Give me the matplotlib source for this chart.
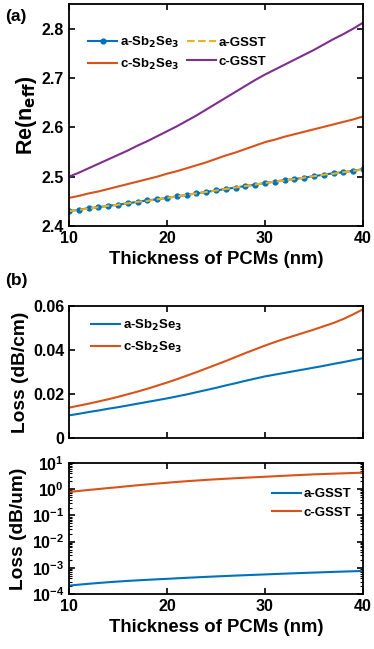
import numpy as np
import matplotlib
matplotlib.use("Agg")
from matplotlib import pyplot as plt
from matplotlib.ticker import LogLocator, NullFormatter

# thickness of PCM layer (nm), 10 ... 40 in 1 nm steps
thick = list(range(10, 41))

# Re(n_eff)
neff_a_sb = [2.430, 2.433, 2.436, 2.438, 2.441, 2.443, 2.446, 2.449, 2.452, 2.454,
             2.457, 2.460, 2.463, 2.466, 2.469, 2.472, 2.475, 2.478, 2.481, 2.484,
             2.487, 2.490, 2.493, 2.495, 2.498, 2.501, 2.504, 2.507, 2.509, 2.512,
             2.515]
neff_a_gsst = [2.430, 2.433, 2.435, 2.438, 2.441, 2.443, 2.446, 2.449, 2.451, 2.454,
               2.457, 2.460, 2.463, 2.466, 2.469, 2.472, 2.475, 2.478, 2.481, 2.484,
               2.487, 2.490, 2.492, 2.495, 2.498, 2.501, 2.504, 2.506, 2.509, 2.512,
               2.514]
neff_c_sb = [2.457, 2.461, 2.466, 2.470, 2.475, 2.480, 2.485, 2.490, 2.495, 2.500,
             2.506, 2.511, 2.517, 2.523, 2.529, 2.536, 2.543, 2.549, 2.556, 2.563,
             2.570, 2.575, 2.581, 2.586, 2.591, 2.596, 2.601, 2.606, 2.611, 2.616,
             2.622]
neff_c_gsst = [2.500, 2.508, 2.517, 2.526, 2.535, 2.544, 2.553, 2.563, 2.572, 2.582,
               2.592, 2.602, 2.613, 2.624, 2.636, 2.648, 2.660, 2.672, 2.684, 2.696,
               2.707, 2.717, 2.727, 2.737, 2.747, 2.757, 2.768, 2.779, 2.789, 2.800,
               2.812]

# loss (dB/cm) for Sb2Se3
loss_a_sb = [0.0103, 0.0110, 0.0118, 0.0125, 0.0133, 0.0140, 0.0148, 0.0156, 0.0164,
             0.0172, 0.0180, 0.0189, 0.0198, 0.0208, 0.0218, 0.0228, 0.0239, 0.0249,
             0.0260, 0.0270, 0.0280, 0.0288, 0.0296, 0.0304, 0.0312, 0.0320, 0.0328,
             0.0337, 0.0345, 0.0354, 0.0363]
loss_c_sb = [0.0138, 0.0147, 0.0156, 0.0166, 0.0176, 0.0187, 0.0199, 0.0211, 0.0224,
             0.0238, 0.0252, 0.0267, 0.0283, 0.0299, 0.0316, 0.0333, 0.0350, 0.0368,
             0.0386, 0.0403, 0.0420, 0.0436, 0.0451, 0.0465, 0.0479, 0.0493, 0.0508,
             0.0523, 0.0541, 0.0562, 0.0585]

# loss (dB/um) for GSST
loss_a_gsst = [2.10e-4, 2.28e-4, 2.46e-4, 2.64e-4, 2.82e-4, 3.00e-4, 3.17e-4, 3.33e-4,
               3.49e-4, 3.65e-4, 3.80e-4, 3.98e-4, 4.16e-4, 4.34e-4, 4.52e-4, 4.70e-4,
               4.88e-4, 5.06e-4, 5.24e-4, 5.42e-4, 5.60e-4, 5.80e-4, 6.00e-4, 6.20e-4,
               6.40e-4, 6.60e-4, 6.80e-4, 7.00e-4, 7.20e-4, 7.40e-4, 7.60e-4]
loss_c_gsst = [0.79, 0.86, 0.94, 1.02, 1.11, 1.20, 1.31, 1.42, 1.53, 1.65, 1.77, 1.90,
               2.03, 2.15, 2.28, 2.40, 2.52, 2.64, 2.76, 2.88, 3.00, 3.14, 3.28, 3.42,
               3.56, 3.70, 3.82, 3.94, 4.06, 4.18, 4.30]

blue = "#0072BD"
orange = "#D95319"
yellow = "#EDB120"
purple = "#7E2F8E"

plt.rcParams['font.family'] = ['Liberation Sans', 'DejaVu Sans']
plt.rcParams['font.weight'] = 'bold'
plt.rcParams['axes.labelweight'] = 'bold'
plt.rcParams['mathtext.default'] = 'bf'


def style_ax(ax):
    ax.tick_params(direction='in', top=True, right=True, width=1.2, length=4,
                   labelsize=11.5)
    for sp in ax.spines.values():
        sp.set_linewidth(1.3)
    ax.set_xlim(10, 40)
    ax.set_xticks([10, 20, 30, 40])


fig = plt.figure(figsize=(3.74, 6.49), dpi=100)
ax1 = fig.add_axes([0.1845, 0.6518, 0.786, 0.342])
ax2 = fig.add_axes([0.1845, 0.3251, 0.786, 0.2034])
ax3 = fig.add_axes([0.1845, 0.0847, 0.786, 0.2018])

# (a)
l1, = ax1.plot(thick, neff_a_sb, '-o', color=blue, lw=1.5, ms=3.5,
               label='a-Sb$_2$Se$_3$')
l2, = ax1.plot(thick, neff_a_gsst, '--', color=yellow, lw=1.5, label='a-GSST')
l3, = ax1.plot(thick, neff_c_sb, '-', color=orange, lw=1.5,
               label='c-Sb$_2$Se$_3$')
l4, = ax1.plot(thick, neff_c_gsst, '-', color=purple, lw=1.5, label='c-GSST')
style_ax(ax1)
ax1.set_ylim(2.4, 2.85)
ax1.set_yticks([2.4, 2.5, 2.6, 2.7, 2.8])
ax1.set_ylabel('Re(n$_{eff}$)', fontsize=15.5, labelpad=2)
ax1.set_xlabel('Thickness of PCMs (nm)', fontsize=13.3)
# legend filled column-wise, so this order gives the row-wise layout
ax1.legend(handles=[l1, l3, l2, l4], loc='upper left', ncol=2, frameon=False,
           fontsize=9.5, handlelength=2.2, columnspacing=0.6,
           handletextpad=0.2, borderaxespad=0.6, bbox_to_anchor=(0.02, 0.92))

# (b) Sb2Se3 loss
ax2.plot(thick, loss_a_sb, color=blue, lw=1.5, label='a-Sb$_2$Se$_3$')
ax2.plot(thick, loss_c_sb, color=orange, lw=1.5, label='c-Sb$_2$Se$_3$')
style_ax(ax2)
ax2.set_ylim(0, 0.06)
ax2.set_yticks([0, 0.02, 0.04, 0.06])
ax2.set_yticklabels(['0', '0.02', '0.04', '0.06'])
ax2.set_xticklabels([])
ax2.set_ylabel('Loss (dB/cm)', fontsize=13.8, labelpad=3)
ax2.legend(loc='upper left', frameon=False, fontsize=9.5, handlelength=2.2,
           handletextpad=0.2, bbox_to_anchor=(0.034, 1.0))

# GSST loss
ax3.semilogy(thick, loss_a_gsst, color=blue, lw=1.5, label='a-GSST')
ax3.semilogy(thick, loss_c_gsst, color=orange, lw=1.5, label='c-GSST')
style_ax(ax3)
ax3.set_ylim(1e-4, 1e1)
ax3.yaxis.set_major_locator(LogLocator(base=10, numticks=10))
ax3.yaxis.set_minor_locator(LogLocator(base=10, subs=np.arange(2, 10), numticks=10))
ax3.yaxis.set_minor_formatter(NullFormatter())
ax3.tick_params(which='minor', direction='in', right=True, length=2, width=0.8)
ax3.set_ylabel('Loss (dB/um)', fontsize=13.8, labelpad=3)
ax3.set_xlabel('Thickness of PCMs (nm)', fontsize=13.3)
ax3.legend(loc='upper right', frameon=False, fontsize=9.5, handlelength=2.2,
           handletextpad=0.2, bbox_to_anchor=(1.0, 0.9))

fig.text(0.013, 0.967, '(a)', fontsize=12.5, fontweight='bold')
fig.text(0.013, 0.561, '(b)', fontsize=12.5, fontweight='bold')

fig.savefig('out.png', dpi=100)
